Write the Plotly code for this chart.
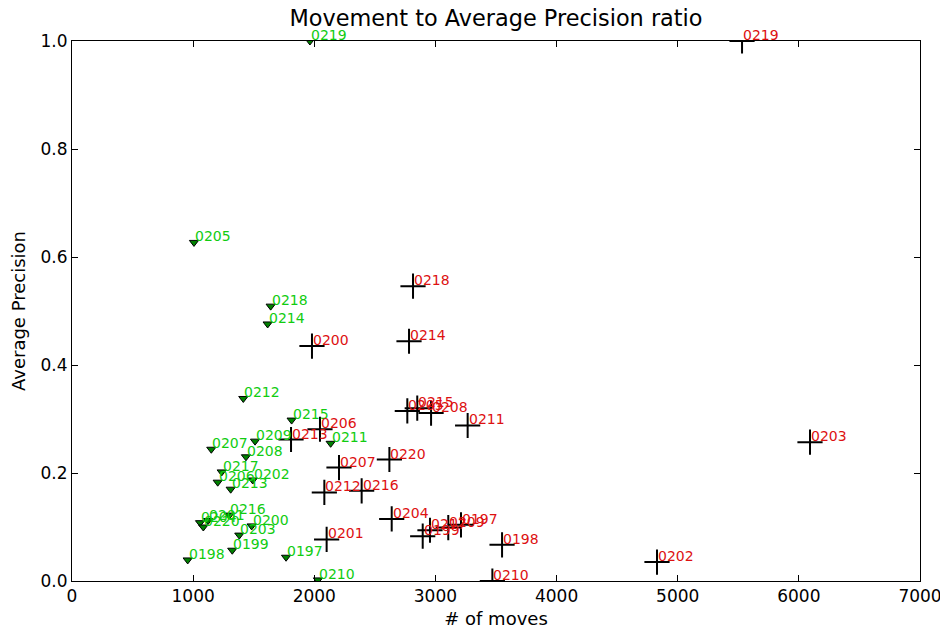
import plotly.graph_objects as go

# Green series (triangles)
g_labels = ["0197", "0198", "0199", "0200", "0201", "0202", "0203", "0204", "0205", "0206",
            "0207", "0208", "0209", "0210", "0211", "0212", "0213", "0214", "0215", "0216",
            "0217", "0218", "0219", "0220"]
g_moves = [1767, 955, 1323, 1483, 1123, 1492, 1381, 1057, 1007, 1203,
           1150, 1436, 1511, 2030, 2135, 1414, 1310, 1615, 1813, 1299,
           1236, 1640, 1964, 1084]
g_prec = [0.044, 0.039, 0.057, 0.102, 0.112, 0.187, 0.085, 0.108, 0.627, 0.183,
          0.244, 0.230, 0.259, 0.002, 0.255, 0.338, 0.170, 0.476, 0.298, 0.122,
          0.202, 0.509, 1.0, 0.100]

# Red series (crosses)
r_labels = ["0197", "0198", "0199", "0200", "0201", "0202", "0203", "0204", "0205", "0206",
            "0207", "0208", "0209", "0210", "0211", "0212", "0213", "0214", "0215", "0216",
            "0217", "0218", "0219", "0220"]
r_moves = [3211, 3550, 2895, 1981, 2102, 4829, 6092, 2639, 2768, 2047,
           2204, 2964, 3106, 3470, 3266, 2083, 1808, 2782, 2850, 2391,
           2955, 2815, 5531, 2620]
r_prec = [0.104, 0.067, 0.083, 0.435, 0.077, 0.035, 0.257, 0.115, 0.315, 0.281,
          0.210, 0.311, 0.099, 0.0, 0.288, 0.164, 0.262, 0.444, 0.320, 0.167,
          0.094, 0.546, 1.0, 0.225]

x_ticks = [0, 1000, 2000, 3000, 4000, 5000, 6000, 7000]
y_ticks = [0.0, 0.2, 0.4, 0.6, 0.8, 1.0]

GREEN_TXT = "#11cc11"
RED_TXT = "#dd1111"
FONT = "DejaVu Sans"

W, H = 940, 621  # page body has an 8px margin

fig = go.Figure()
fig.add_trace(go.Scatter(
    x=g_moves, y=g_prec, mode="markers",
    marker=dict(symbol="triangle-down", size=8, color="#008000",
                line=dict(color="black", width=1)),
    cliponaxis=True, showlegend=False, hoverinfo="skip"))
fig.add_trace(go.Scatter(
    x=r_moves, y=r_prec, mode="markers",
    marker=dict(symbol="cross-thin-open", size=18, color="black",
                line=dict(color="black", width=2)),
    cliponaxis=True, showlegend=False, hoverinfo="skip"))

annotations = []
for lab, x, y in zip(g_labels, g_moves, g_prec):
    annotations.append(dict(x=x, y=y, text=lab, showarrow=False, xanchor="left",
                            yanchor="bottom", yshift=-4, xshift=-1,
                            font=dict(family=FONT, size=14, color=GREEN_TXT)))
for lab, x, y in zip(r_labels, r_moves, r_prec):
    annotations.append(dict(x=x, y=y, text=lab, showarrow=False, xanchor="left",
                            yanchor="bottom", yshift=-4, xshift=-1,
                            font=dict(family=FONT, size=14, color=RED_TXT)))

fig.update_layout(
    width=W, height=H,
    margin=dict(l=64, r=28, t=33, b=48),
    paper_bgcolor="white", plot_bgcolor="white",
    font=dict(family=FONT, size=17, color="black"),
    title=dict(text="Movement to Average Precision ratio", x=0.5, xref="paper",
               y=1 - 10 / H, yref="container", yanchor="middle",
               font=dict(family=FONT, size=22.4, color="black")),
    annotations=annotations,
    showlegend=False,
)
fig.update_xaxes(range=[0, 7000], tickvals=x_ticks, ticktext=[str(v) for v in x_ticks],
                 showgrid=False, zeroline=False, showline=True, linecolor="black",
                 linewidth=1, mirror="ticks", ticks="inside", ticklen=6,
                 tickcolor="black", tickfont=dict(size=17), automargin=False,
                 title=dict(text="# of moves", standoff=8, font=dict(size=18)))
fig.update_yaxes(range=[0, 1], tickvals=y_ticks, ticktext=[f"{v:.1f}" for v in y_ticks],
                 showgrid=False, zeroline=False, showline=True, linecolor="black",
                 linewidth=1, mirror="ticks", ticks="inside", ticklen=6,
                 tickcolor="black", tickfont=dict(size=17), automargin=False,
                 title=dict(text="Average Precision", standoff=10, font=dict(size=18)))

fig.write_html("out.html")
